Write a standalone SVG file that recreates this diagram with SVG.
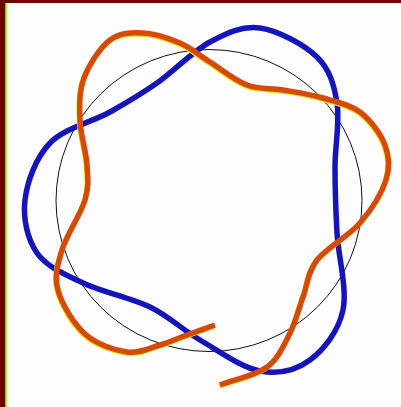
<svg xmlns="http://www.w3.org/2000/svg" xmlns:xlink="http://www.w3.org/1999/xlink" width="401" height="407" viewBox="0 0 401 407">
<style>
.bg{fill:#fdfdfd}
.frame{fill:#6e0000}
.edge{fill:#66ff00}
.ring{fill:none;stroke:#111;stroke-width:1}
.strand{fill:none;stroke-linecap:butt;stroke-linejoin:round}
.blue{stroke:#1414b8;stroke-width:5.5}
.orange{stroke:#d64a08;stroke-width:5.5}
.halo{stroke:#f2e000;stroke-width:5}
</style>
<defs>
<path id="orangePath" d="M215,325 C205.7,328.3 196.2,331.7 187,335 C177.8,338.3 170,342.2 160,345 C150,347.8 139.5,353.8 127,352 C114.5,350.2 96.5,344.3 85,334 C73.5,323.7 61.8,304 58,290 C54.2,276 57.5,265 62,250 C66.5,235 80.8,214.2 85,200 C89.2,185.8 87.8,178.3 87,165 C86.2,151.7 80.5,134.5 80,120 C79.5,105.5 79,91.3 84,78 C89,64.7 100.2,47.5 110,40 C119.8,32.5 131.3,32.5 143,33 C154.7,33.5 168.8,38.2 180,43 C191.2,47.8 198.8,55 210,62 C221.2,69 234.8,80.3 247,85 C259.2,89.7 270.3,87.8 283,90 C295.7,92.2 310.2,94.3 323,98 C335.8,101.7 349.7,104.2 360,112 C370.3,119.8 380.7,133.7 385,145 C389.3,156.3 390.2,167 386,180 C381.8,193 371.5,209.7 360,223 C348.5,236.3 326.5,247.7 317,260 C307.5,272.3 307.5,284.8 303,297 C298.5,309.2 296,321.3 290,333 C284,344.7 278.7,358.3 267,367 C255.3,375.7 235.7,379 220,385"/>
</defs>
<rect class="bg" x="0" y="0" width="401" height="407"/>
<rect class="frame" x="0" y="0" width="401" height="3"/>
<rect class="frame" x="0" y="0" width="5.5" height="407"/>
<rect class="edge" x="5.5" y="3" width="1.2" height="404"/>
<g id="circle">
<ellipse class="ring" cx="209" cy="200.5" rx="153" ry="151"/>
</g>
<g id="connectors">
<path id="blue" class="strand blue" d="M260,28 C277.8,30.5 304.2,44.5 317,57 C329.8,69.5 334,84.7 337,103 C340,121.3 335,145.3 335,167 C335,188.7 335.7,209.2 337,233 C338.3,256.8 347.5,288.8 343,310 C338.5,331.2 323.8,349.8 310,360 C296.2,370.2 278.3,374.3 260,371 C241.7,367.7 218.3,350.7 200,340 C181.7,329.3 169.5,316.5 150,307 C130.5,297.5 101.8,292 83,283 C64.2,274 46.7,266.8 37,253 C27.3,239.2 22.8,218.3 25,200 C27.2,181.7 35.8,157.7 50,143 C64.2,128.3 92.2,122 110,112 C127.8,102 140.3,94.7 157,83 C173.7,71.3 192.8,51.2 210,42 C227.2,32.8 242.2,25.5 260,28 Z"/>
<use xlink:href="#orangePath" class="strand halo" transform="translate(-0.8,1.2)"/>
<use id="orange" xlink:href="#orangePath" class="strand orange"/>
</g>
</svg>
